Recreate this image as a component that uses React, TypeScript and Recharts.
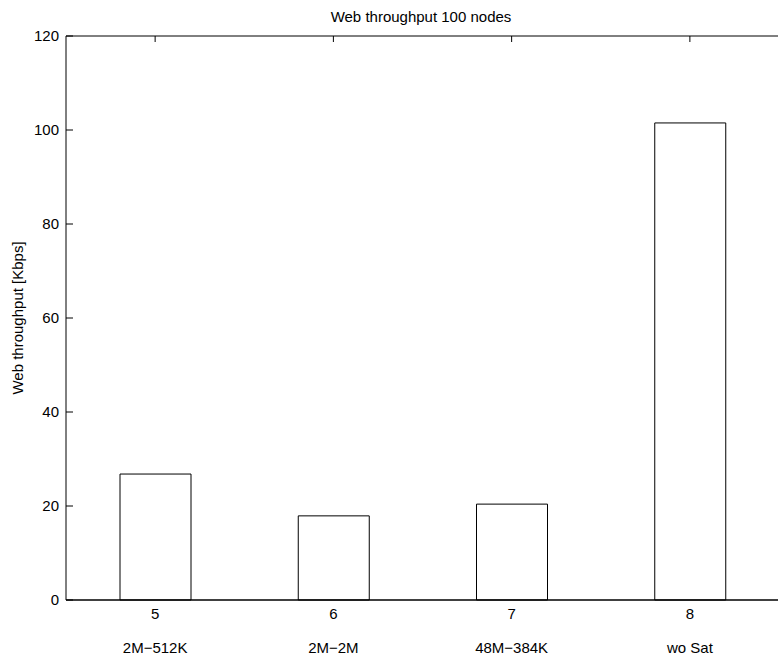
import React from "react";
import { BarChart, Bar, XAxis, YAxis } from "recharts";

const categories = ["5", "6", "7", "8"];
const subLabels = ["2M\u2212512K", "2M\u22122M", "48M\u2212384K", "wo Sat"];
const throughput = [26.8, 17.9, 20.4, 101.5];
const yTicks = [0, 20, 40, 60, 80, 100, 120];

const data = categories.map((c, i) => ({ cat: c, sub: subLabels[i], value: throughput[i] }));

const FONT = "Liberation Sans, Arial, Helvetica, sans-serif";
const FS = 15;

const BottomTick = (props: any) => {
  const { x, y, payload, index } = props;
  return (
    <g>
      <text x={x} y={y + 11} textAnchor="middle" fontFamily={FONT} fontSize={FS} fill="#000">
        {payload.value}
      </text>
      <text x={x} y={y + 45} textAnchor="middle" fontFamily={FONT} fontSize={FS} fill="#000">
        {subLabels[index]}
      </text>
    </g>
  );
};

const TopTick = (props: any) => {
  const { x, y } = props;
  return <line x1={x} x2={x} y1={y + 8} y2={y + 14} stroke="#000" strokeWidth={1} />;
};

const LeftTick = (props: any) => {
  const { x, y, payload } = props;
  return (
    <g>
      <line x1={x + 8} x2={x + 15} y1={y} y2={y} stroke="#000" strokeWidth={1} />
      <text x={x + 1} y={y + 5} textAnchor="end" fontFamily={FONT} fontSize={FS} fill="#000">
        {payload.value}
      </text>
    </g>
  );
};

const RightTick = (props: any) => {
  const { x, y } = props;
  return <line x1={x - 8} x2={x - 14} y1={y} y2={y} stroke="#000" strokeWidth={1} />;
};

export default function App() {
  return (
    <div style={{ position: "absolute", left: 0, top: 0, width: 778, height: 659, overflow: "hidden", background: "#fff" }}>
      <BarChart
        width={780}
        height={659}
        data={data}
        margin={{ top: 0, right: 0, bottom: 0, left: 0 }}
      >
        <text x={421} y={22} textAnchor="middle" fontFamily={FONT} fontSize={FS} fill="#000">
          Web throughput 100 nodes
        </text>
        <text
          x={23}
          y={318}
          textAnchor="middle"
          fontFamily={FONT}
          fontSize={FS}
          fill="#000"
          transform="rotate(-90 23 318)"
        >
          Web throughput [Kbps]
        </text>
        <XAxis
          xAxisId="bottom"
          dataKey="cat"
          orientation="bottom"
          height={59}
          axisLine={{ stroke: "#000", strokeWidth: 1.5 }}
          tickLine={false}
          tick={<BottomTick />}
          interval={0}
        />
        <XAxis
          xAxisId="top"
          dataKey="cat"
          orientation="top"
          height={36}
          axisLine={{ stroke: "#000", strokeWidth: 1 }}
          tickLine={false}
          tick={<TopTick />}
          interval={0}
        />
        <YAxis
          yAxisId="left"
          domain={[0, 120]}
          ticks={yTicks}
          width={66}
          axisLine={{ stroke: "#000", strokeWidth: 1 }}
          tickLine={false}
          tick={<LeftTick />}
          interval={0}
        />
        <YAxis
          yAxisId="right"
          orientation="right"
          domain={[0, 120]}
          ticks={yTicks}
          width={1}
          axisLine={{ stroke: "#000", strokeWidth: 1 }}
          tickLine={false}
          tick={<RightTick />}
          interval={0}
        />
        <Bar
          dataKey="value"
          xAxisId="bottom"
          yAxisId="left"
          fill="#fff"
          stroke="#000"
          strokeWidth={1}
          barSize={71}
          isAnimationActive={false}
        />
      </BarChart>
    </div>
  );
}
